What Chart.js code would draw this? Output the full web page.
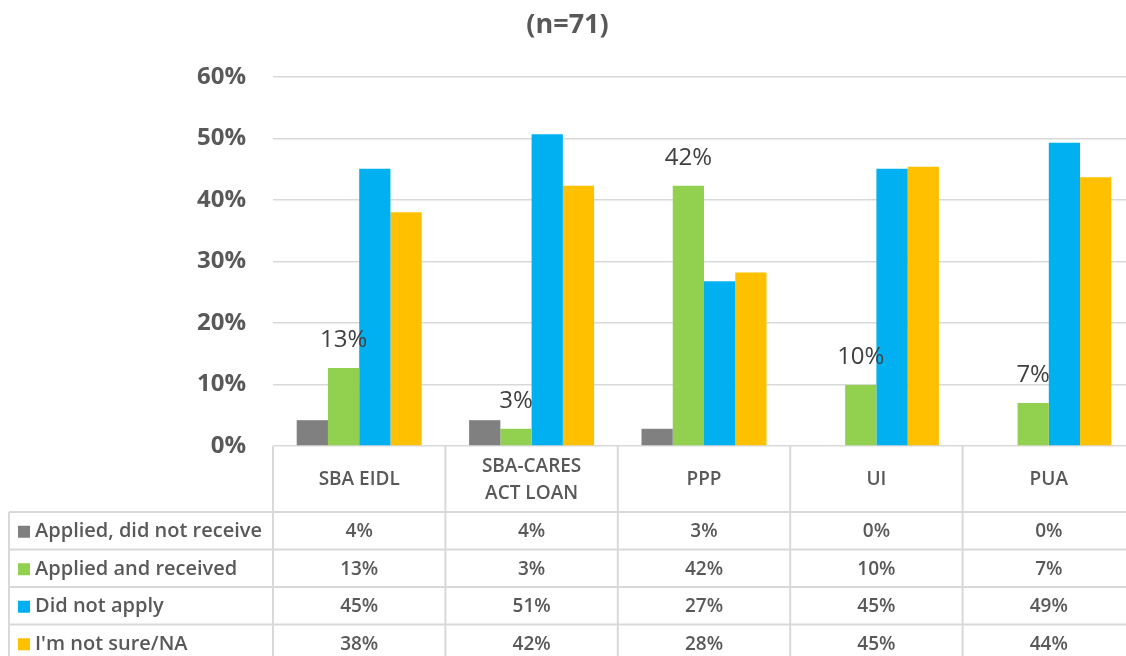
<!DOCTYPE html>
<html>
<head>
<meta charset="utf-8">
<script src="https://cdn.jsdelivr.net/npm/chart.js@4.4.1/dist/chart.umd.min.js"></script>
<style>
  body { margin: 0; background: #fff; overflow: hidden; }
  #wrap { width: 1135px; height: 656px; }
</style>
</head>
<body>
<div id="wrap"><canvas id="grafico" width="1135" height="656"></canvas></div>
<script>
// dados do gráfico
const categorias = ['SBA EIDL', ['SBA-CARES', 'ACT LOAN'], 'PPP', 'UI', 'PUA'];
const seriesNomes = ['Applied, did not receive', 'Applied and received', 'Did not apply', "I'm not sure/NA"];
const naoRecebeu = [4.2, 4.2, 2.8, 0, 0];
const recebeu = [12.7, 2.8, 42.3, 9.9, 7.0];
const naoAplicou = [45.1, 50.7, 26.8, 45.1, 49.3];
const naoSei = [38.0, 42.3, 28.2, 45.4, 43.7];
const cores = ['#808080', '#92D050', '#00B0F0', '#FFC000'];
const titulo = '(n=71)';

const fonte = "'Open Sans', 'Noto Sans', sans-serif";
const corTexto = '#595959';
const corLinha = '#d9d9d9';

// rótulos só na série "Applied and received"
const rotulosPlugin = {
    id: 'rotulos',
    afterDatasetsDraw(chart) {
        const ctx = chart.ctx;
        const meta = chart.getDatasetMeta(1);
        ctx.save();
        ctx.font = '24px ' + fonte;
        ctx.fillStyle = '#404040';
        ctx.textAlign = 'center';
        ctx.textBaseline = 'middle';
        meta.data.forEach((bar, i) => {
            ctx.fillText(Math.round(recebeu[i]) + '%', bar.x, bar.y - 28);
        });
        ctx.restore();
    }
};

// título e tabela de dados
const tabelaPlugin = {
    id: 'tabela',
    afterDraw(chart) {
        const ctx = chart.ctx;
        const area = chart.chartArea;
        const x = chart.scales.x;
        const n = categorias.length;
        const larg = (x.right - x.left) / n;
        const topo = area.bottom;
        const altCab = 66;
        const altLinha = 37.5;
        const esq = 9;
        const series = [naoRecebeu, recebeu, naoAplicou, naoSei];

        ctx.save();
        // título
        ctx.font = 'bold 27px ' + fonte;
        ctx.fillStyle = corTexto;
        ctx.textAlign = 'center';
        ctx.textBaseline = 'middle';
        ctx.fillText(titulo, chart.width / 2, 25);

        // linhas
        ctx.strokeStyle = corLinha;
        ctx.lineWidth = 2;
        ctx.beginPath();
        for (let i = 0; i <= n; i++) {
            const xx = x.left + i * larg;
            ctx.moveTo(xx, topo);
            ctx.lineTo(xx, chart.height + 10);
        }
        ctx.moveTo(esq, topo + altCab);
        ctx.lineTo(esq, chart.height + 10);
        for (let r = 0; r <= series.length; r++) {
            const yy = topo + altCab + r * altLinha;
            ctx.moveTo(esq, yy);
            ctx.lineTo(x.right, yy);
        }
        ctx.stroke();

        // cabeçalho
        ctx.font = '600 19px ' + fonte;
        ctx.fillStyle = corTexto;
        categorias.forEach((c, i) => {
            const cx = x.getPixelForValue(i);
            const linhas = Array.isArray(c) ? c : [c];
            const cy = topo + altCab / 2 + 1;
            linhas.forEach((t, k) => {
                ctx.fillText(t, cx, cy + (k - (linhas.length - 1) / 2) * 27);
            });
        });

        // linhas de valores
        series.forEach((s, r) => {
            const cy = topo + altCab + r * altLinha + altLinha / 2 + 1;
            ctx.fillStyle = cores[r];
            ctx.fillRect(esq + 9, cy - 6, 12, 12);
            ctx.fillStyle = corTexto;
            ctx.textAlign = 'left';
            ctx.font = '600 20px ' + fonte;
            ctx.fillText(seriesNomes[r], esq + 26, cy);
            ctx.textAlign = 'center';
            ctx.font = '600 19px ' + fonte;
            s.forEach((v, i) => {
                ctx.fillText(Math.round(v) + '%', x.getPixelForValue(i), cy);
            });
        });
        ctx.restore();
    }
};

const ctxGraf = document.getElementById('grafico').getContext('2d');
new Chart(ctxGraf, {
    type: 'bar',
    data: {
        labels: categorias,
        datasets: seriesNomes.map((nome, i) => ({
            label: nome,
            data: [naoRecebeu, recebeu, naoAplicou, naoSei][i],
            backgroundColor: cores[i],
            barPercentage: 1,
            categoryPercentage: 0.725
        }))
    },
    options: {
        responsive: false,
        animation: false,
        devicePixelRatio: 1,
        layout: { padding: { top: 77, bottom: 210, left: 0, right: 0 } },
        plugins: {
            legend: { display: false },
            title: { display: false },
            tooltip: { enabled: false }
        },
        scales: {
            x: { display: false },
            y: {
                min: 0,
                max: 60,
                ticks: {
                    stepSize: 10,
                    padding: 27,
                    color: corTexto,
                    font: { family: fonte, size: 24, weight: 'bold' },
                    callback: v => v + '%'
                },
                grid: { color: corLinha, lineWidth: 1.5, drawTicks: false },
                border: { display: false },
                afterFit: s => { s.width = 273; }
            }
        }
    },
    plugins: [rotulosPlugin, tabelaPlugin]
});
</script>
</body>
</html>
